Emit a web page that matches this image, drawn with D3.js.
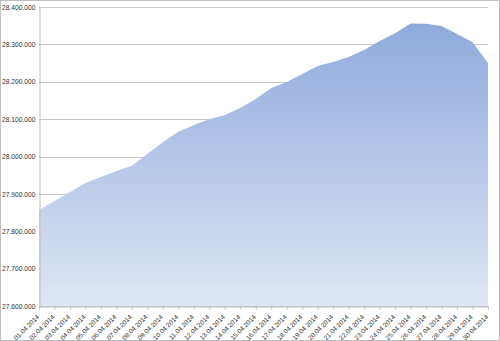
<!DOCTYPE html>
<html>
<head>
<meta charset="utf-8">
<script src="https://cdn.jsdelivr.net/npm/d3@7"></script>
<style>
  html, body { margin: 0; padding: 0; background: #fff; }
  svg { display: block; }
</style>
</head>
<body>
<svg id="chart" width="500" height="341"></svg>
<script>
// Fechas (una por día de abril 2014)
const dates = [
  "01.04.2014", "02.04.2014", "03.04.2014", "04.04.2014", "05.04.2014",
  "06.04.2014", "07.04.2014", "08.04.2014", "09.04.2014", "10.04.2014",
  "11.04.2014", "12.04.2014", "13.04.2014", "14.04.2014", "15.04.2014",
  "16.04.2014", "17.04.2014", "18.04.2014", "19.04.2014", "20.04.2014",
  "21.04.2014", "22.04.2014", "23.04.2014", "24.04.2014", "25.04.2014",
  "26.04.2014", "27.04.2014", "28.04.2014", "29.04.2014", "30.04.2014"
];

// Valores
const values = [
  27857000, 27881000, 27905000, 27929000, 27945000,
  27961000, 27975000, 28007000, 28039000, 28066000,
  28084000, 28100000, 28111000, 28130000, 28154000,
  28183000, 28199000, 28221000, 28242000, 28253000,
  28266000, 28285000, 28309000, 28330000, 28356000,
  28355000, 28349000, 28328000, 28306000, 28250000
];

const yTicks = [27600000, 27700000, 27800000, 27900000, 28000000, 28100000, 28200000, 28300000, 28400000];

const width = 500;
const height = 341;
const margin = { top: 7, right: 12, bottom: 35, left: 39 };

const svg = d3.select("#chart");

// Borde exterior
svg.append("rect")
  .attr("x", 0.5).attr("y", 0.5)
  .attr("width", width - 1).attr("height", height - 1)
  .attr("fill", "#fff")
  .attr("stroke", "#bfbfbf");

const x = d3.scalePoint()
  .domain(dates)
  .range([margin.left, width - margin.right]);

const y = d3.scaleLinear()
  .domain([27600000, 28400000])
  .range([height - margin.bottom, margin.top]);

// Formato 28.400.000
const fmt = v => d3.format(",")(v).replace(/,/g, ".");

// Degradado del área
const grad = svg.append("defs").append("linearGradient")
  .attr("id", "fillGrad")
  .attr("gradientUnits", "userSpaceOnUse")
  .attr("x1", 0).attr("y1", y(28360000))
  .attr("x2", 0).attr("y2", y(27600000));
grad.append("stop").attr("offset", "0%").attr("stop-color", "#8eaadc");
grad.append("stop").attr("offset", "100%").attr("stop-color", "#dfe6f5");

// Líneas de rejilla
svg.append("g")
  .selectAll("line")
  .data(yTicks)
  .enter()
  .append("line")
  .attr("x1", margin.left)
  .attr("x2", width - margin.right)
  .attr("y1", d => Math.round(y(d)) + 0.5)
  .attr("y2", d => Math.round(y(d)) + 0.5)
  .attr("stroke", "#c6c6c6")
  .attr("stroke-width", 1);

// Área
const area = d3.area()
  .x((d, i) => x(dates[i]))
  .y0(y(27600000))
  .y1(d => y(d));

svg.append("path")
  .datum(values)
  .attr("d", area)
  .attr("fill", "url(#fillGrad)");

// Eje Y
const yAxis = svg.append("g")
  .attr("transform", `translate(${margin.left + 0.5},0)`)
  .call(d3.axisLeft(y).tickValues(yTicks).tickFormat(fmt).tickSize(0).tickPadding(4));
yAxis.select(".domain").attr("stroke", "#bfbfbf");
yAxis.selectAll("text")
  .attr("font-family", "Liberation Sans, Arial, sans-serif")
  .attr("font-size", "6.7px")
  .attr("fill", "#333");

// Eje X
const xAxis = svg.append("g")
  .attr("transform", `translate(0,${height - margin.bottom + 0.5})`)
  .call(d3.axisBottom(x).tickSize(3).tickSizeOuter(0));
xAxis.select(".domain").attr("stroke", "#bfbfbf");
xAxis.selectAll(".tick line").attr("stroke", "#bfbfbf");
xAxis.selectAll("text")
  .attr("font-family", "Liberation Sans, Arial, sans-serif")
  .attr("font-size", "6.5px")
  .attr("fill", "#333")
  .attr("text-anchor", "end")
  .attr("dy", 0)
  .attr("y", 0)
  .attr("transform", "translate(0,11) rotate(-45)");
</script>
</body>
</html>
